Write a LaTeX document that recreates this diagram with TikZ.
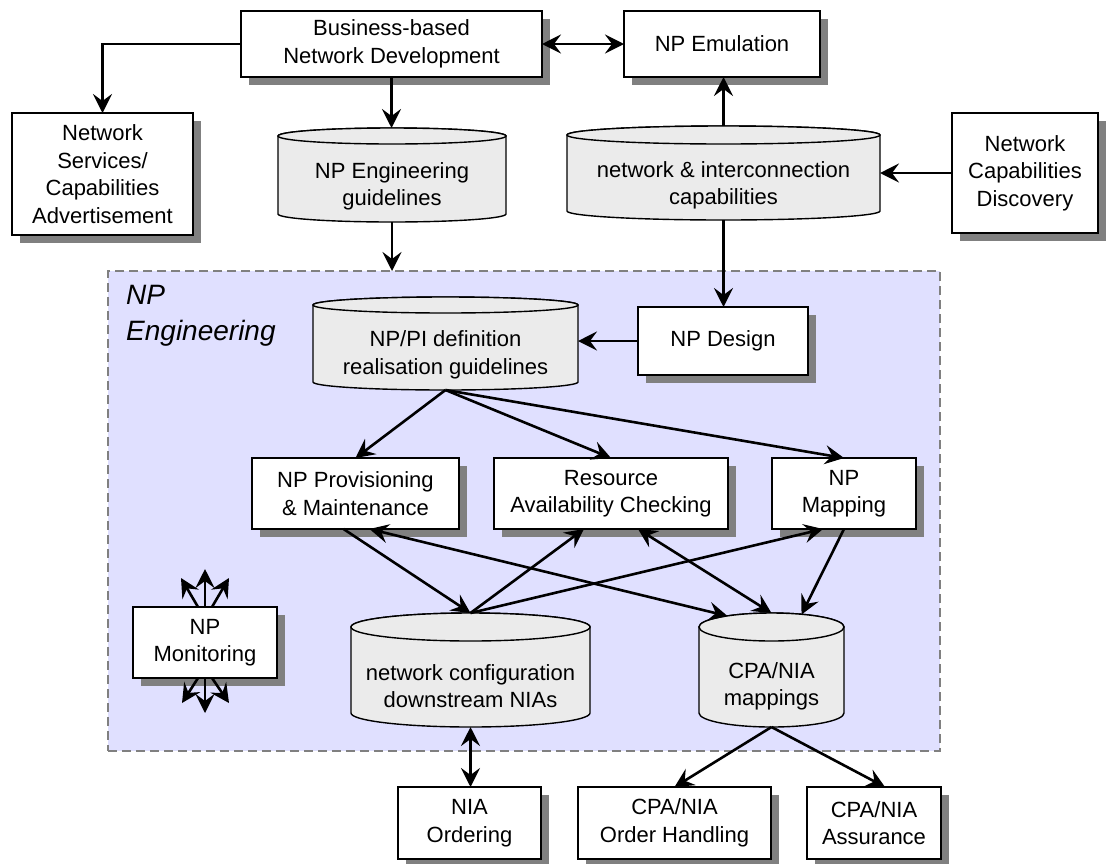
\documentclass[tikz,border=0pt]{standalone}
\usepackage{fontspec}
\setmainfont{Liberation Sans}
\usetikzlibrary{arrows.meta,shadows,calc}

\definecolor{engfill}{RGB}{224,224,255}
\definecolor{drumfill}{RGB}{235,235,235}
\definecolor{shadowgray}{RGB}{128,128,128}
\definecolor{framegray}{RGB}{128,128,128}

\tikzset{
  bodyfont/.style={font=\fontsize{22}{27.5}\selectfont},
  proc/.style={draw=black, line width=2.5pt, fill=white, align=center,
    inner sep=0pt, outer sep=0pt, bodyfont,
    drop shadow={shadow xshift=8pt, shadow yshift=-8pt, fill=shadowgray, opacity=1}},
  flow/.style={line width=2.6pt, -{Stealth[length=19pt,width=19pt,inset=7pt]}},
  biflow/.style={line width=2.6pt,
    {Stealth[length=19pt,width=19pt,inset=7pt]}-{Stealth[length=19pt,width=19pt,inset=7pt]}},
  drumline/.style={draw=black, line width=1.4pt, fill=drumfill},
  drumtext/.style={align=center, inner sep=0pt, bodyfont},
  frame/.style={draw=framegray, fill=engfill, line width=2.3pt,
    dash pattern=on 9pt off 5pt, inner sep=0pt, outer sep=0pt},
}

% box with shadow: name, left, top, right, bottom, text
\newcommand\procbox[6]{%
  \node[proc, minimum width={(#4-#2)*1pt}, minimum height={(#5-#3)*1pt}]
    (#1) at ({(#2+#4)/2},{-(#3+#5)/2}) {#6};}

% data store drum: name, left, top, right, bottom, end radius, text
\newcommand\drum[7]{%
  \path[drumline] (#2,{-(#5-#6)})
    arc[start angle=180, end angle=360, x radius={(#4-#2)/2}, y radius=#6]
    -- (#4,{-(#3+#6)})
    arc[start angle=0, end angle=180, x radius={(#4-#2)/2}, y radius=#6] -- cycle;
  \path[drumline] ({(#2+#4)/2},{-(#3+#6)})
    ellipse[x radius={(#4-#2)/2}, y radius=#6];
  \node[inner sep=0pt, outer sep=0pt,
    minimum width={(#4-#2)*1pt}, minimum height={(#5-#3)*1pt}]
    (#1) at ({(#2+#4)/2},{-(#3+#5)/2}) {};
  \node[drumtext] (#1-text) at ({(#2+#4)/2},{-((#3+#5)/2+0.8*#6+5)}) {#7};}

\begin{document}
\begin{tikzpicture}[x=1pt,y=1pt]
\useasboundingbox (0,0) rectangle (1108,-863);

% engineering area
\node[frame, minimum width=832pt, minimum height=480pt] (eng) at (524,-511) {};
\node[anchor=north west, align=left, inner sep=0pt,
  font=\itshape\fontsize{28}{36}\selectfont] (englabel) at (126,-285) {NP\\Engineering};

% top row
\procbox{bnd}{241}{11}{542}{77}{Business-based\\Network Development}
\procbox{npe}{624}{11}{820}{77}{NP Emulation}
\procbox{nsa}{12}{113}{193}{235}{Network\\Services/\\Capabilities\\Advertisement}
\procbox{ncd}{952}{113}{1098}{233}{Network\\Capabilities\\Discovery}
\drum{npeg}{278}{128}{506}{222}{8}{NP Engineering\\guidelines}
\drum{nic}{567}{126}{880}{220}{9}{network \& interconnection\\capabilities}

% inside the engineering area
\procbox{npd}{638}{307}{808}{375}{NP Design}
\drum{nppi}{313}{297}{578}{390}{8}{NP/PI definition\\realisation guidelines}
\procbox{npp}{252}{458}{459}{529}{NP Provisioning\\\& Maintenance}
\procbox{rac}{494}{458}{728}{529}{Resource\\Availability Checking}
\procbox{npm}{772}{458}{916}{529}{NP\\Mapping}
\procbox{npmon}{133}{607}{277}{678}{NP\\Monitoring}
\drum{cfg}{351}{613}{590}{727}{14}{network configuration\\downstream NIAs}
\drum{cpa}{699}{613}{844}{727}{14}{CPA/NIA\\mappings}

% bottom row
\procbox{nia}{398}{787}{541}{859}{NIA\\Ordering}
\procbox{coh}{578}{787}{771}{859}{CPA/NIA\\Order Handling}
\procbox{cas}{807}{787}{941}{859}{CPA/NIA\\Assurance}

% connectors, top part
\coordinate (engtop) at (npeg.south |- eng.north);
\draw[flow] (bnd.west) -| (nsa.north);
\draw[biflow] (bnd.east) -- (npe.west);
\draw[flow] (bnd.south) -- (bnd.south |- npeg.north);
\draw[flow] (npeg.south) -- (engtop);
\draw[flow] (nic.north) -- (nic.north |- npe.south);
\draw[flow] (ncd.west) -- (nic.east);
\draw[flow] (nic.south) -- (nic.south |- npd.north);
\draw[flow] (npd.west) -- (npd.west -| nppi.east);

% guidelines to the three activities
\draw[flow] (nppi.south) -- (npp.north);
\draw[flow] (nppi.south) -- (rac.north);
\draw[flow] (nppi.south) -- (npm.north);

% activities and data stores
\draw[flow] ([xshift=-12pt]npp.south) -- (cfg.north);
\draw[flow] (cfg.north) -- ([xshift=-27pt]rac.south);
\draw[flow] (cfg.north) -- ([xshift=-21pt]npm.south);
\draw[biflow] ([xshift=14pt]npp.south) -- ([xshift=-44pt,yshift=-3pt]cpa.north);
\draw[biflow] ([xshift=27pt]rac.south) -- (cpa.north);
\draw[flow] (npm.south) -- ([xshift=30pt,yshift=-1.5pt]cpa.north);

% monitoring fans
\coordinate (mon-u)  at ($(npmon.north)+(0,38)$);
\coordinate (mon-ul) at ($(npmon.north)+(-24,29)$);
\coordinate (mon-ur) at ($(npmon.north)+(24,29)$);
\coordinate (mon-d)  at ($(npmon.south)+(0,-35)$);
\coordinate (mon-dl) at ($(npmon.south)+(-23,-25)$);
\coordinate (mon-dr) at ($(npmon.south)+(24,-25)$);
\draw[flow] (npmon.north) -- (mon-u);
\draw[flow] ([xshift=-7pt]npmon.north) -- (mon-ul);
\draw[flow] ([xshift=7pt]npmon.north) -- (mon-ur);
\draw[flow] (npmon.south) -- (mon-d);
\draw[flow] ([xshift=-7pt]npmon.south) -- (mon-dl);
\draw[flow] ([xshift=7pt]npmon.south) -- (mon-dr);

% outgoing interfaces
\draw[biflow] (cfg.south) -- (cfg.south |- nia.north);
\draw[flow] (cpa.south) -- (coh.north);
\draw[flow] (cpa.south) -- ([xshift=11pt]cas.north);
\end{tikzpicture}
\end{document}
